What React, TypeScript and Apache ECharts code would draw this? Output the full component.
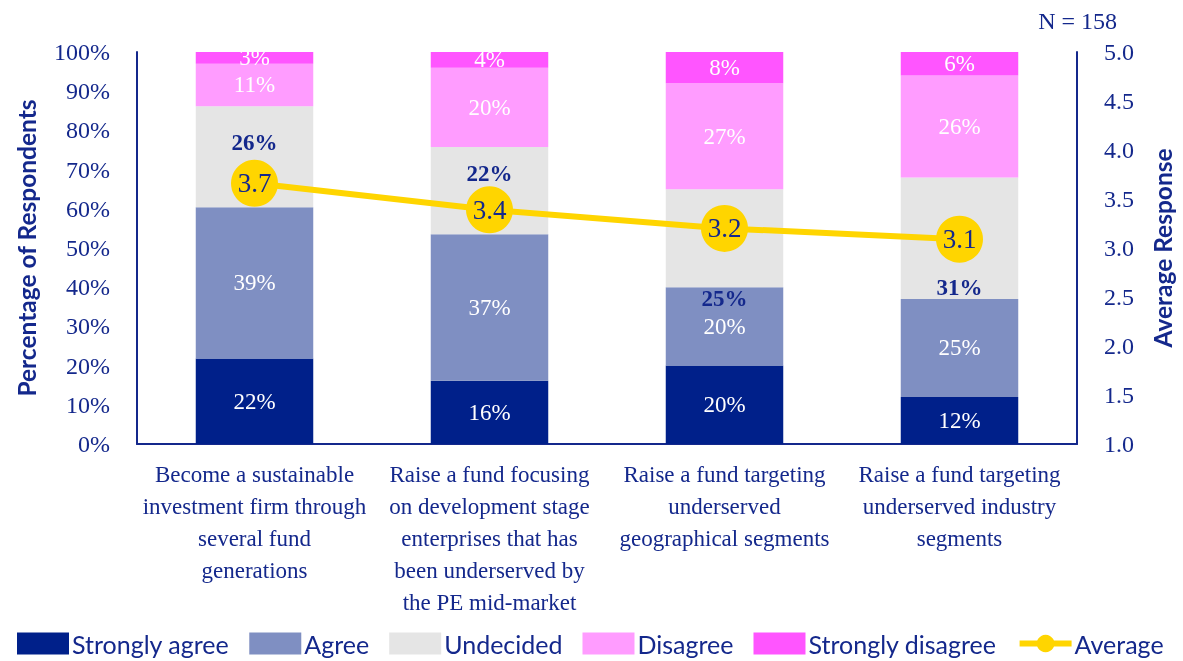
import React, { useEffect, useRef } from "react";
import * as echarts from "echarts";

const categories = [
  "Become a sustainable\ninvestment firm through\nseveral fund\ngenerations",
  "Raise a fund focusing\non development stage\nenterprises that has\nbeen underserved by\nthe PE mid-market",
  "Raise a fund targeting\nunderserved\ngeographical segments",
  "Raise a fund targeting\nunderserved industry\nsegments",
];
const stronglyAgree = [22, 16, 20, 12];
const agree = [39, 37, 20, 25];
const undecided = [26, 22, 25, 31];
const disagree = [11, 20, 27, 26];
const stronglyDisagree = [3, 4, 8, 6];
const average = [3.66, 3.39, 3.2, 3.09];
const percentTicks = { min: 0, max: 100, interval: 10 };
const averageTicks = { min: 1, max: 5, interval: 0.5 };
const sampleNote = "N = 158";

const NAVY = "#14288c";
const SERIF = "'Liberation Serif', 'DejaVu Serif', serif";
const LEGEND_FONT = "'Lato', sans-serif";

export default function App() {
  const ref = useRef<HTMLDivElement>(null);
  useEffect(() => {
    if (!ref.current) return;
    const chart = echarts.init(ref.current, null, { renderer: "svg" });
    const groups = [stronglyAgree, agree, undecided, disagree, stronglyDisagree];
    const totals = categories.map((_, i) => groups.reduce((s, g) => s + g[i], 0));
    const undecidedOffsets = [-14, -17, 60, 49];

    const mk = (
      name: string,
      arr: number[],
      color: string,
      labelColor: string,
      bold: boolean,
      offsets?: number[]
    ) => ({
      name,
      type: "bar",
      stack: "total",
      barWidth: "50%",
      itemStyle: { color },
      emphasis: { disabled: true },
      data: arr.map((v, i) => ({
        value: (v / totals[i]) * 100,
        raw: v,
        label: offsets ? { offset: [0, offsets[i]] } : undefined,
      })),
      label: {
        show: true,
        position: "inside",
        color: labelColor,
        fontFamily: SERIF,
        fontSize: 23,
        fontWeight: bold ? "bold" : "normal",
        formatter: (p: any) => `${p.data.raw}%`,
      },
    });

    const legendNames = ["Strongly agree", "Agree", "Undecided", "Disagree", "Strongly disagree"];

    chart.setOption({
      animation: false,
      textStyle: { fontFamily: SERIF },
      grid: { left: 137, right: 103, top: 52, bottom: 217, containLabel: false },
      legend: {
        left: 17,
        top: 631,
        padding: 0,
        itemWidth: 52,
        itemHeight: 22,
        itemGap: 20,
        textStyle: { color: NAVY, fontSize: 25, fontFamily: LEGEND_FONT, padding: [0, 0, 0, -2] },
        data: [
          ...legendNames.map((n) => ({ name: n, icon: "rect" })),
          { name: "Average", lineStyle: { width: 6 } },
        ],
      },
      graphic: [
        {
          type: "text",
          right: 66,
          top: 9,
          style: { text: sampleNote, fill: NAVY, font: `24px ${SERIF}` },
        },
      ],
      xAxis: {
        type: "category",
        data: categories,
        axisLine: { lineStyle: { color: NAVY, width: 2 } },
        axisTick: { show: false },
        axisLabel: {
          interval: 0,
          color: NAVY,
          fontFamily: SERIF,
          fontSize: 23,
          lineHeight: 32,
          margin: 14,
        },
      },
      yAxis: [
        {
          type: "value",
          min: percentTicks.min,
          max: percentTicks.max,
          interval: percentTicks.interval,
          splitLine: { show: false },
          axisLine: { show: true, lineStyle: { color: NAVY, width: 2 } },
          axisTick: { show: false },
          axisLabel: { formatter: "{value}%", color: NAVY, fontFamily: SERIF, fontSize: 24, margin: 27 },
          name: "Percentage of Respondents",
          nameLocation: "middle",
          nameRotate: 90,
          nameGap: 98,
          nameTextStyle: { color: NAVY, fontFamily: "Lato", fontSize: 24.5, fontWeight: "bold" },
        },
        {
          type: "value",
          position: "right",
          min: averageTicks.min,
          max: averageTicks.max,
          interval: averageTicks.interval,
          splitLine: { show: false },
          axisLine: { show: true, lineStyle: { color: NAVY, width: 2 } },
          axisTick: { show: false },
          axisLabel: {
            formatter: (v: number) => v.toFixed(1),
            color: NAVY,
            fontFamily: SERIF,
            fontSize: 24,
            margin: 27,
          },
          name: "Average Response",
          nameLocation: "middle",
          nameRotate: 90,
          nameGap: 73,
          nameTextStyle: { color: NAVY, fontFamily: "Lato", fontSize: 24.5, fontWeight: "bold" },
        },
      ],
      series: [
        mk("Strongly agree", stronglyAgree, "#00208a", "#ffffff", false),
        mk("Agree", agree, "#7f8fc2", "#ffffff", false),
        mk("Undecided", undecided, "#e5e5e5", NAVY, true, undecidedOffsets),
        mk("Disagree", disagree, "#ff9cff", "#ffffff", false),
        mk("Strongly disagree", stronglyDisagree, "#ff55ff", "#ffffff", false),
        {
          name: "Average",
          type: "line",
          yAxisIndex: 1,
          data: average,
          z: 10,
          symbol: "circle",
          symbolSize: 47,
          lineStyle: { color: "#ffd500", width: 6 },
          itemStyle: { color: "#ffd500" },
          emphasis: { disabled: true },
          label: {
            show: true,
            position: "inside",
            color: NAVY,
            fontFamily: SERIF,
            fontSize: 27,
            formatter: (p: any) => Number(p.value).toFixed(1),
          },
        },
      ],
    });
    return () => chart.dispose();
  }, []);
  return (
    <div
      ref={ref}
      style={{ position: "fixed", left: 0, top: 0, width: 1183, height: 661 }}
    />
  );
}
